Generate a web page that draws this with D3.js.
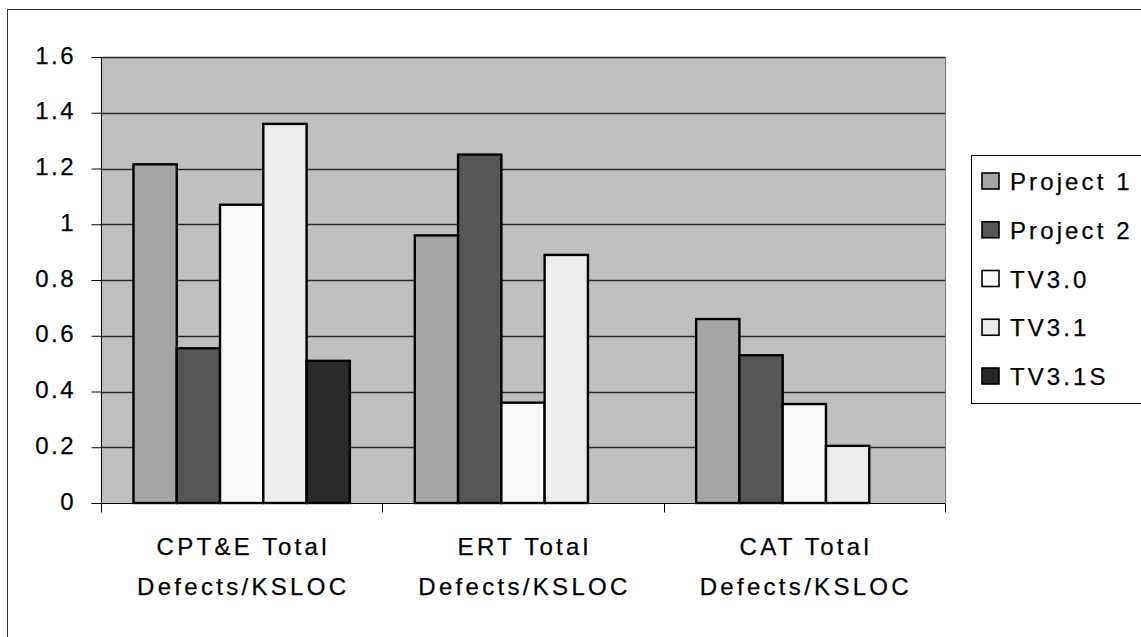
<!DOCTYPE html>
<html>
<head>
<meta charset="utf-8">
<script src="https://cdn.jsdelivr.net/npm/d3@7"></script>
<style>
  html, body { margin: 0; padding: 0; background: #fff; }
  svg { display: block; }
  text { font-family: "Liberation Sans", Arial, sans-serif; fill: #000; stroke: #000; stroke-width: 0.25px; }
</style>
</head>
<body>
<script>
// ---- data ----
const categories = ["CPT&E Total Defects/KSLOC", "ERT Total Defects/KSLOC", "CAT Total Defects/KSLOC"];
const categoryLines = [["CPT&E Total", "Defects/KSLOC"], ["ERT Total", "Defects/KSLOC"], ["CAT Total", "Defects/KSLOC"]];
const seriesNames = ["Project 1", "Project 2", "TV3.0", "TV3.1", "TV3.1S"];
const project1 = [1.215, 0.96, 0.66];
const project2 = [0.555, 1.25, 0.53];
const tv30 = [1.07, 0.36, 0.355];
const tv31 = [1.36, 0.89, 0.205];
const tv31s = [0.51, null, null];
const yTicks = [0, 0.2, 0.4, 0.6, 0.8, 1, 1.2, 1.4, 1.6];
const seriesColors = ["#a5a5a5", "#565656", "#f9f9f9", "#ececec", "#292929"];

const seriesValues = [project1, project2, tv30, tv31, tv31s];

const W = 1141, H = 637;
const plot = { left: 101, right: 945, top: 57, bottom: 503 };

const svg = d3.select("body").append("svg").attr("width", W).attr("height", H);

// outer frame
svg.append("rect").attr("x", 7.5).attr("y", 9.5).attr("width", W + 20).attr("height", H + 20)
  .attr("fill", "#fff").attr("stroke", "#333").attr("stroke-width", 1);

const y = d3.scaleLinear().domain([0, 1.6]).range([plot.bottom, plot.top]);
const x0 = d3.scaleBand().domain(categories).range([plot.left, plot.right]).paddingInner(0).paddingOuter(0);
const x1 = d3.scaleBand().domain(seriesNames).range([0, x0.bandwidth()]).paddingInner(0).paddingOuter(0.75);

// plot background
svg.append("rect").attr("x", plot.left).attr("y", plot.top)
  .attr("width", plot.right - plot.left).attr("height", plot.bottom - plot.top)
  .attr("fill", "#c0c0c0");

// gridlines
svg.append("g").selectAll("line").data(yTicks.filter(d => d > 0)).join("line")
  .attr("x1", plot.left).attr("x2", plot.right)
  .attr("y1", d => Math.round(y(d)) + 0.5).attr("y2", d => Math.round(y(d)) + 0.5)
  .attr("stroke", "#2a2a2a").attr("stroke-width", 1.3);

// right border of plot
svg.append("line").attr("x1", plot.right + 0.5).attr("x2", plot.right + 0.5)
  .attr("y1", plot.top).attr("y2", plot.bottom).attr("stroke", "#777").attr("stroke-width", 1);

// bars
const barData = [];
categories.forEach((c, ci) => {
  seriesNames.forEach((s, si) => {
    const v = seriesValues[si][ci];
    if (v != null) barData.push({ c, s, v, color: seriesColors[si] });
  });
});
svg.append("g").selectAll("rect").data(barData).join("rect")
  .attr("x", d => x0(d.c) + x1(d.s))
  .attr("y", d => y(d.v))
  .attr("width", x1.bandwidth())
  .attr("height", d => y(0) - y(d.v))
  .attr("fill", d => d.color)
  .attr("stroke", "#000").attr("stroke-width", 2.4);

// y axis
const yAxis = d3.axisLeft(y).tickValues(yTicks).tickSize(10).tickPadding(0).tickFormat(d3.format("~g"));
const gy = svg.append("g").attr("transform", `translate(${plot.left + 0.5},0)`).call(yAxis);
gy.select(".domain").attr("stroke", "#000").attr("d", `M0,${plot.top}V${plot.bottom + 8}`);
gy.selectAll(".tick line").attr("stroke", "#000");
gy.selectAll(".tick text")
  .attr("x", -25.5).attr("dy", null).attr("y", 6)
  .attr("font-size", 24).attr("letter-spacing", 2.5)
  .attr("font-family", "Liberation Sans, Arial, sans-serif")
  .attr("fill", "#000");

// x axis
const xAxis = d3.axisBottom(x0).tickSize(0).tickFormat("");
const gx = svg.append("g").attr("transform", `translate(0,${plot.bottom + 0.5})`).call(xAxis);
gx.select(".domain").attr("stroke", "#000").attr("d", `M${plot.left},0H${plot.right}`);
// category boundary ticks
const boundaries = categories.map(c => x0(c)).concat([plot.right]);
gx.selectAll(".bnd").data(boundaries).join("line").attr("class", "bnd")
  .attr("x1", d => Math.round(d) + 0.5).attr("x2", d => Math.round(d) + 0.5)
  .attr("y1", 0).attr("y2", 9).attr("stroke", "#000");

// category labels
const catG = svg.append("g");
categories.forEach((c, i) => {
  const cx = x0(c) + x0.bandwidth() / 2 + 1.5;
  const t = catG.append("text").attr("text-anchor", "middle").attr("font-size", 24).attr("letter-spacing", 3.3);
  categoryLines[i].forEach((line, li) => {
    t.append("tspan").attr("x", cx).attr("y", 555 + li * 40).text(line);
  });
});

// legend
const legend = svg.append("g");
legend.append("rect").attr("x", 971.5).attr("y", 155.5).attr("width", 200).attr("height", 248)
  .attr("fill", "#fff").attr("stroke", "#000").attr("stroke-width", 1);
const legendY = d3.scalePoint().domain(seriesNames).range([181, 376]);
seriesNames.forEach((s, i) => {
  const cy = legendY(s);
  legend.append("rect").attr("x", 982).attr("y", cy - 8).attr("width", 17).attr("height", 16)
    .attr("fill", seriesColors[i]).attr("stroke", "#000").attr("stroke-width", 1.6);
  legend.append("text").attr("x", 1010).attr("y", cy + 9).attr("font-size", 24).attr("letter-spacing", 3.1).text(s);
});
</script>
</body>
</html>
